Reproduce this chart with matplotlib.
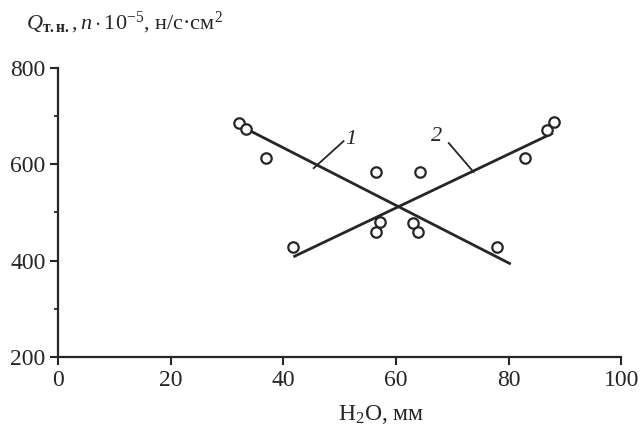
import matplotlib
matplotlib.use("Agg")
import matplotlib.pyplot as plt
import numpy as np

# data
x1 = [32.2, 33.3, 37.0, 56.4, 63.0, 63.9, 77.9]
y1 = [686, 673, 613, 584, 478, 459, 428]
x2 = [41.8, 56.4, 57.1, 64.2, 82.9, 86.8, 88.1]
y2 = [428, 460, 480, 584, 613, 671, 688]
line1_x = [31.7, 80.4]
line1_y = [684, 393]
line2_x = [41.8, 87.9]
line2_y = [408, 665]
xticks = [0, 20, 40, 60, 80, 100]
yticks = [200, 400, 600, 800]
yminor = [300, 500, 700]

plt.rcParams['font.family'] = ['Liberation Serif', 'DejaVu Serif']
plt.rcParams['mathtext.fontset'] = 'custom'
plt.rcParams['mathtext.rm'] = 'Liberation Serif'
plt.rcParams['mathtext.it'] = 'Liberation Serif:italic'
plt.rcParams['mathtext.bf'] = 'Liberation Serif:bold'

ink = '#262626'
fig = plt.figure(figsize=(6.41, 4.33), dpi=100)
ax = fig.add_axes([0.0905, 0.1755, 0.8785, 0.6675])

ax.plot(line1_x, line1_y, color=ink, lw=2.0, solid_capstyle='butt')
ax.plot(line2_x, line2_y, color=ink, lw=2.0, solid_capstyle='butt')
ax.plot(x1, y1, 'o', mfc='white', mec=ink, mew=1.6, ms=7.5)
ax.plot(x2, y2, 'o', mfc='white', mec=ink, mew=1.6, ms=7.5)

# labels with leader lines
ax.plot([45.4, 50.7], [592, 648], color=ink, lw=1.3)
ax.plot([69.4, 73.8], [644, 584], color=ink, lw=1.3)
ax.text(52.0, 652, '1', fontsize=16, style='italic', color=ink, ha='center', va='center')
ax.text(67.2, 658, '2', fontsize=16, style='italic', color=ink, ha='center', va='center')

ax.set_xlim(0, 100)
ax.set_ylim(200, 800)
ax.set_xticks(xticks)
ax.set_yticks(yticks)
ax.set_yticks(yminor, minor=True)
for s in ['top', 'right']:
    ax.spines[s].set_visible(False)
for s in ['left', 'bottom']:
    ax.spines[s].set_linewidth(1.6)
    ax.spines[s].set_color(ink)
ax.tick_params(axis='both', which='major', direction='out', length=6, width=1.5,
               color=ink, labelsize=17, labelcolor=ink, pad=3)
ax.tick_params(axis='y', which='minor', direction='out', length=3, width=1.3, color=ink)
ax.set_xlabel('H$_2$O, мм', fontsize=17, color=ink, labelpad=6)
ax.xaxis.set_label_coords(0.574, -0.16)

fig.text(0.040, 0.948,
         r'$\mathit{Q}_{\mathbf{т.н.}},\mathit{n}\cdot10^{-5}$, н/с·см$^{2}$',
         fontsize=16, color=ink, ha='left', va='center')

fig.savefig('out.png', dpi=100, facecolor='white')
